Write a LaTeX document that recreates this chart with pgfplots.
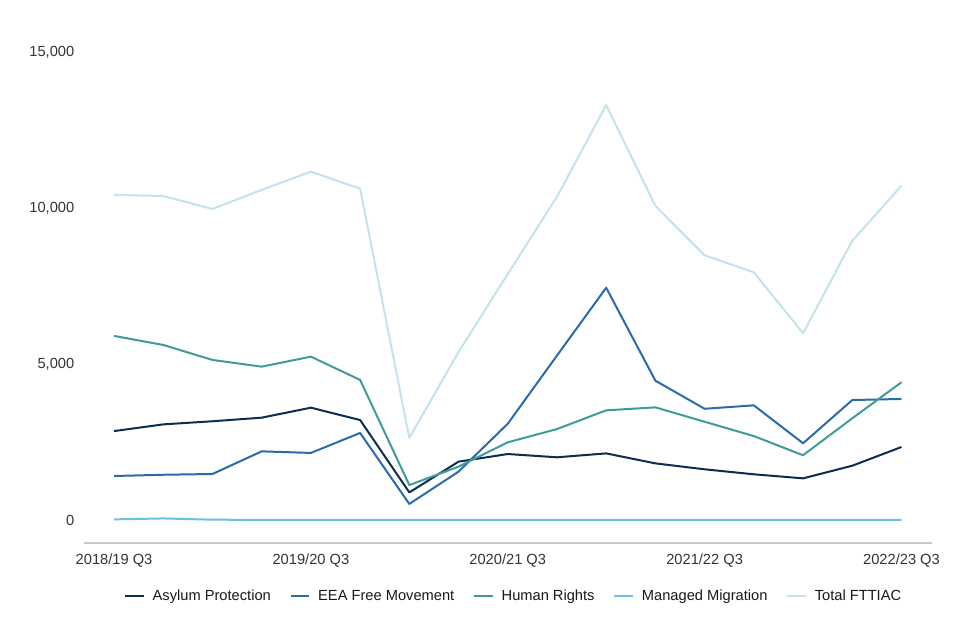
\documentclass[border=0pt]{standalone}
\usepackage{pgfplots}
\pgfplotsset{compat=1.18}
\usepackage{fontspec}
\setmainfont{Liberation Sans}

\definecolor{asylum}{HTML}{0B2D50}
\definecolor{eea}{HTML}{2A6AAD}
\definecolor{rights}{HTML}{3F9B97}
\definecolor{managed}{HTML}{6CC0E0}
\definecolor{total}{HTML}{C3E2EC}
\definecolor{ticktext}{HTML}{333333}

% quarters 2018/19 Q3 ... 2022/23 Q3 as 0..16
\pgfplotstableread{
q asylum eea rights managed total
0  2850 1410 5900 20 10420
1  3065 1450 5610 50 10385
2  3165 1475 5130 10 9970
3  3280 2200 4915 5  10580
4  3600 2150 5235 5  11165
5  3205 2790 4490 5  10620
6  885  515  1120 5  2630
7  1870 1550 1710 5  5385
8  2115 3085 2490 5  7885
9  2010 5270 2915 5  10360
10 2135 7445 3515 5  13300
11 1815 4465 3610 5  10065
12 1625 3565 3150 5  8485
13 1465 3675 2690 5  7940
14 1335 2460 2075 5  5985
15 1740 3845 3260 5  8950
16 2340 3880 4415 5  10715
}\fttiac

\begin{document}
\begin{tikzpicture}
\useasboundingbox (-63pt,-72.75pt) rectangle (657pt,407.25pt);
\begin{axis}[
    at={(0,0)}, anchor=south west,
    scale only axis,
    width=636pt, height=368.25pt,
    xmin=-0.61, xmax=16.62,
    ymin=-737, ymax=15000,
    axis lines*=left,
    y axis line style={draw=none},
    x axis line style={draw=black!22, line width=0.8pt},
    tick style={draw=none},
    xtick={0,4,8,12,16},
    xticklabels={2018/19 Q3, 2019/20 Q3, 2020/21 Q3, 2021/22 Q3, 2022/23 Q3},
    ytick={0,5000,10000,15000},
    scaled y ticks=false,
    yticklabel style={/pgf/number format/fixed},
    ticklabel style={font=\fontsize{11}{13}\selectfont, text=ticktext},
    x tick label style={yshift=-4.5pt},
    y tick label style={xshift=-3.75pt},
    /pgf/number format/.cd, fixed, 1000 sep={,}, assume math mode=true,
    /pgfplots/.cd,
    legend columns=-1,
    legend style={at={(0.507,-0.108)}, anchor=center, draw=none,
        font=\fontsize{11}{13}\selectfont, text=black!90,
        /tikz/every odd column/.append style={column sep=4pt},
        /tikz/every even column/.append style={column sep=12pt}},
    legend image code/.code={\draw[#1, line width=1.5pt] (0pt,0pt) -- (14pt,0pt);},
    every axis plot/.append style={line width=1.5pt, mark=none, line join=round},
]
\addplot[asylum]  table[x=q, y=asylum]  {\fttiac};
\addplot[eea]     table[x=q, y=eea]     {\fttiac};
\addplot[rights]  table[x=q, y=rights]  {\fttiac};
\addplot[managed] table[x=q, y=managed] {\fttiac};
\addplot[total]   table[x=q, y=total]   {\fttiac};
\legend{Asylum Protection, EEA Free Movement, Human Rights, Managed Migration, Total FTTIAC}
\end{axis}
\end{tikzpicture}
\end{document}
